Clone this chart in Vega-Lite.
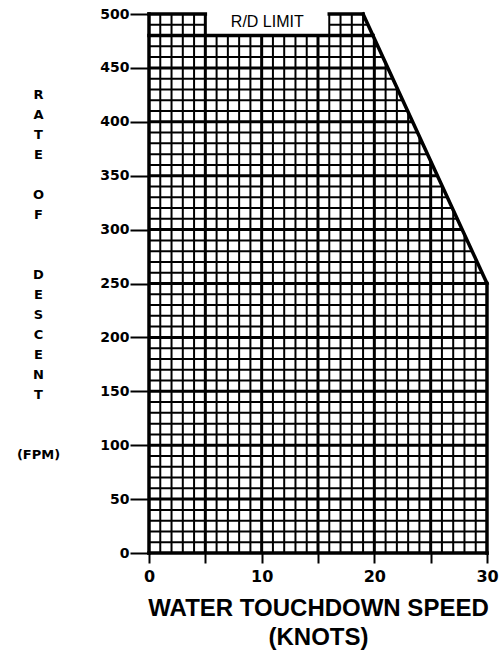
{
  "$schema": "https://vega.github.io/schema/vega-lite/v6.json",
  "width": 338,
  "height": 539,
  "autosize": {"type": "none"},
  "padding": {"left": 149, "top": 14, "right": 16, "bottom": 98},
  "background": "white",
  "config": {"view": {"stroke": null}},
  "datasets": {
    "hlines": [
      {"y": 10, "x": 0, "x2": 30}, {"y": 20, "x": 0, "x2": 30}, {"y": 30, "x": 0, "x2": 30}, {"y": 40, "x": 0, "x2": 30},
      {"y": 50, "x": 0, "x2": 30}, {"y": 60, "x": 0, "x2": 30}, {"y": 70, "x": 0, "x2": 30}, {"y": 80, "x": 0, "x2": 30},
      {"y": 90, "x": 0, "x2": 30}, {"y": 100, "x": 0, "x2": 30}, {"y": 110, "x": 0, "x2": 30}, {"y": 120, "x": 0, "x2": 30},
      {"y": 130, "x": 0, "x2": 30}, {"y": 140, "x": 0, "x2": 30}, {"y": 150, "x": 0, "x2": 30}, {"y": 160, "x": 0, "x2": 30},
      {"y": 170, "x": 0, "x2": 30}, {"y": 180, "x": 0, "x2": 30}, {"y": 190, "x": 0, "x2": 30}, {"y": 200, "x": 0, "x2": 30},
      {"y": 210, "x": 0, "x2": 30}, {"y": 220, "x": 0, "x2": 30}, {"y": 230, "x": 0, "x2": 30}, {"y": 240, "x": 0, "x2": 30},
      {"y": 250, "x": 0, "x2": 30}, {"y": 260, "x": 0, "x2": 29.56}, {"y": 270, "x": 0, "x2": 29.12}, {"y": 280, "x": 0, "x2": 28.68},
      {"y": 290, "x": 0, "x2": 28.24}, {"y": 300, "x": 0, "x2": 27.8}, {"y": 310, "x": 0, "x2": 27.36}, {"y": 320, "x": 0, "x2": 26.92},
      {"y": 330, "x": 0, "x2": 26.48}, {"y": 340, "x": 0, "x2": 26.04}, {"y": 350, "x": 0, "x2": 25.6}, {"y": 360, "x": 0, "x2": 25.16},
      {"y": 370, "x": 0, "x2": 24.72}, {"y": 380, "x": 0, "x2": 24.28}, {"y": 390, "x": 0, "x2": 23.84}, {"y": 400, "x": 0, "x2": 23.4},
      {"y": 410, "x": 0, "x2": 22.96}, {"y": 420, "x": 0, "x2": 22.52}, {"y": 430, "x": 0, "x2": 22.08}, {"y": 440, "x": 0, "x2": 21.64},
      {"y": 450, "x": 0, "x2": 21.2}, {"y": 460, "x": 0, "x2": 20.76}, {"y": 470, "x": 0, "x2": 20.32}, {"y": 480, "x": 0, "x2": 19.88},
      {"y": 490, "x": 0, "x2": 5}, {"y": 490, "x": 16, "x2": 19.44}
    ],
    "vlines": [
      {"x": 1, "y": 0, "y2": 500}, {"x": 2, "y": 0, "y2": 500}, {"x": 3, "y": 0, "y2": 500}, {"x": 4, "y": 0, "y2": 500},
      {"x": 5, "y": 0, "y2": 500}, {"x": 6, "y": 0, "y2": 480}, {"x": 7, "y": 0, "y2": 480}, {"x": 8, "y": 0, "y2": 480},
      {"x": 9, "y": 0, "y2": 480}, {"x": 10, "y": 0, "y2": 480}, {"x": 11, "y": 0, "y2": 480}, {"x": 12, "y": 0, "y2": 480},
      {"x": 13, "y": 0, "y2": 480}, {"x": 14, "y": 0, "y2": 480}, {"x": 15, "y": 0, "y2": 480}, {"x": 16, "y": 0, "y2": 500},
      {"x": 17, "y": 0, "y2": 500}, {"x": 18, "y": 0, "y2": 500}, {"x": 19, "y": 0, "y2": 500}, {"x": 20, "y": 0, "y2": 477.3},
      {"x": 21, "y": 0, "y2": 454.5}, {"x": 22, "y": 0, "y2": 431.8}, {"x": 23, "y": 0, "y2": 409.1}, {"x": 24, "y": 0, "y2": 386.4},
      {"x": 25, "y": 0, "y2": 363.6}, {"x": 26, "y": 0, "y2": 340.9}, {"x": 27, "y": 0, "y2": 318.2}, {"x": 28, "y": 0, "y2": 295.5},
      {"x": 29, "y": 0, "y2": 272.7}
    ],
    "borders": [
      {"x": 0, "y": 0, "x2": 0, "y2": 500},
      {"x": 0, "y": 0, "x2": 30, "y2": 0},
      {"x": 30, "y": 0, "x2": 30, "y2": 250},
      {"x": 19, "y": 500, "x2": 30, "y2": 250},
      {"x": 0, "y": 500, "x2": 5, "y2": 500},
      {"x": 16, "y": 500, "x2": 19, "y2": 500},
      {"x": 0, "y": 480, "x2": 19.88, "y2": 480}
    ],
    "labels": [
      {"x": 10.5, "y": 493, "label": "R/D LIMIT"}
    ]
  },
  "encoding": {
    "x": {
      "field": "x", "type": "quantitative",
      "scale": {"domain": [0, 30], "nice": false, "zero": false},
      "axis": {
        "values": [0, 5, 10, 15, 20, 25, 30],
        "labelExpr": "datum.value % 10 === 0 ? datum.label : ''",
        "domain": false, "grid": false,
        "tickSize": 10, "tickWidth": 2, "tickColor": "black",
        "labelFont": "DejaVu Sans", "labelFontWeight": "bold", "labelFontSize": 16, "labelColor": "black",
        "labelPadding": 5, "labelFlush": false, "labelOverlap": false,
        "title": ["WATER TOUCHDOWN SPEED", "(KNOTS)"],
        "titleFont": "Liberation Sans", "titleFontSize": 24, "titleFontWeight": "bold", "titleColor": "black",
        "titleLineHeight": 29, "titlePadding": 12
      }
    },
    "y": {
      "field": "y", "type": "quantitative",
      "scale": {"domain": [0, 500], "nice": false, "zero": false},
      "axis": {
        "values": [0, 50, 100, 150, 200, 250, 300, 350, 400, 450, 500],
        "domain": false, "grid": false,
        "tickSize": 19, "tickWidth": 2, "tickColor": "black",
        "labelFont": "DejaVu Sans", "labelFontWeight": "bold", "labelFontSize": 14, "labelColor": "black",
        "labelPadding": 1, "labelFlush": false, "labelOverlap": false,
        "title": ["R", "A", "T", "E", "\u200b", "O", "F", "\u200b ", " \u200b", "D", "E", "S", "C", "E", "N", "T", "\u200b", " \u200b ", "(FPM)"],
        "titleAngle": 0, "titleAlign": "center", "titleBaseline": "top",
        "titleX": -111, "titleY": 74,
        "titleFont": "DejaVu Sans", "titleFontSize": 13, "titleFontWeight": "bold", "titleColor": "black",
        "titleLineHeight": 20
      }
    }
  },
  "layer": [
    {
      "data": {"name": "hlines"},
      "mark": {"type": "rule", "color": "black"},
      "encoding": {
        "x2": {"field": "x2"},
        "strokeWidth": {"condition": {"test": "datum.y % 50 === 0 || datum.y === 480", "value": 3}, "value": 2}
      }
    },
    {
      "data": {"name": "vlines"},
      "mark": {"type": "rule", "color": "black"},
      "encoding": {
        "y2": {"field": "y2"},
        "strokeWidth": {"condition": {"test": "datum.x % 5 === 0", "value": 3}, "value": 2}
      }
    },
    {
      "data": {"name": "borders"},
      "mark": {"type": "rule", "color": "black", "strokeWidth": 3.5, "strokeCap": "square"},
      "encoding": {
        "x2": {"field": "x2"},
        "y2": {"field": "y2"}
      }
    },
    {
      "data": {"name": "labels"},
      "mark": {"type": "text", "font": "Liberation Sans", "fontSize": 16, "align": "center", "baseline": "middle", "color": "black"},
      "encoding": {
        "text": {"field": "label"}
      }
    }
  ]
}
